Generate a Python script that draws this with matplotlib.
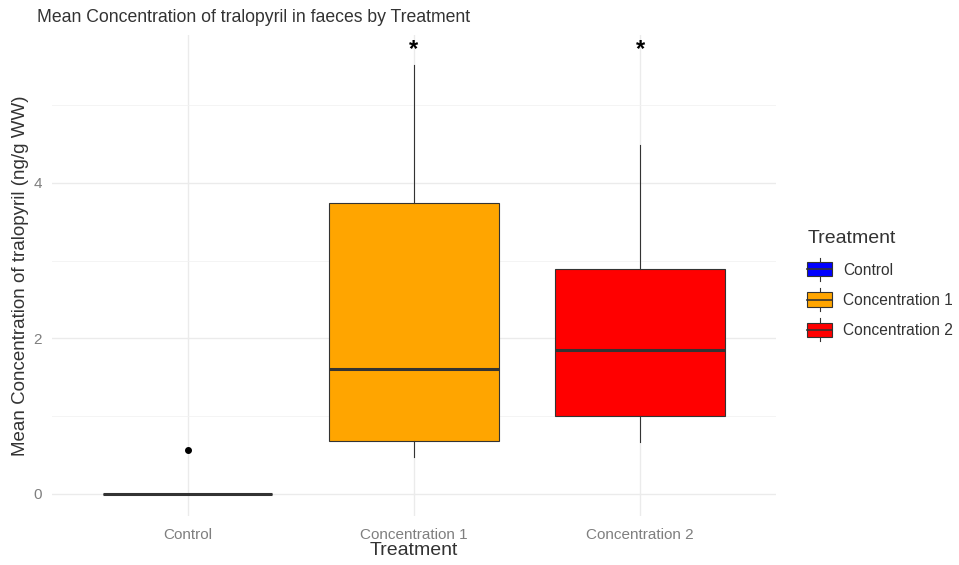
import matplotlib
matplotlib.use('Agg')
import matplotlib.pyplot as plt
from matplotlib.patches import Rectangle
from matplotlib.lines import Line2D
from matplotlib.legend_handler import HandlerBase

plt.rcParams['font.family'] = ['Liberation Sans', 'DejaVu Sans']

## data
treatments = ['Control', 'Concentration 1', 'Concentration 2']
colours = ['blue', 'orange', 'red']
whisker_low = [0.0, 0.48, 0.67]
q1 = [0.0, 0.68, 1.0]
median = [0.0, 1.61, 1.85]
q3 = [0.0, 3.74, 2.89]
whisker_high = [0.0, 5.52, 4.49]
outliers = [[0.57], [], []]
signif = ['', '*', '*']
star_y = 5.72


class BoxHandler(HandlerBase):
    def create_artists(self, legend, orig_handle, xdescent, ydescent,
                       width, height, fontsize, trans):
        cx = width / 2 - xdescent
        line = Line2D([cx, cx], [-ydescent - 3, height - ydescent + 3],
                      color='#333333', lw=0.8, transform=trans)
        rect = Rectangle((-xdescent, -ydescent), width, height,
                         facecolor=orig_handle.get_facecolor(),
                         edgecolor='#333333', lw=0.8, transform=trans)
        med = Line2D([-xdescent, width - xdescent],
                     [height / 2 - ydescent] * 2,
                     color='#333333', lw=1.2, transform=trans)
        return [line, rect, med]


fig = plt.figure(figsize=(9.59, 5.65), dpi=100)
ax = fig.add_axes([0.054, 0.087, 0.755, 0.851])

stats = []
for i in range(len(treatments)):
    stats.append({'whislo': whisker_low[i], 'q1': q1[i], 'med': median[i],
                  'q3': q3[i], 'whishi': whisker_high[i], 'fliers': outliers[i]})

bp = ax.bxp(stats, positions=[1, 2, 3], widths=0.75, patch_artist=True,
            showcaps=False,
            boxprops=dict(edgecolor='#333333', linewidth=0.8),
            whiskerprops=dict(color='#333333', linewidth=0.8),
            medianprops=dict(color='#333333', linewidth=2.2),
            flierprops=dict(marker='o', markersize=4, markerfacecolor='black',
                            markeredgecolor='black'))
for patch, c in zip(bp['boxes'], colours):
    patch.set_facecolor(c)
for l in bp['medians']:
    l.set_solid_capstyle('butt')

for i, s in enumerate(signif):
    if s:
        ax.text(i + 1, star_y, s, ha='center', va='center', fontsize=17,
                fontweight='bold', color='black')

ax.set_xlim(0.4, 3.6)
ax.set_ylim(-0.283, 5.9)
ax.set_xticks([1, 2, 3])
ax.set_xticklabels(treatments)
ax.set_yticks([0, 2, 4])
ax.set_yticks([1, 3, 5], minor=True)
ax.grid(which='major', color='#EBEBEB', lw=1.0)
ax.grid(which='minor', axis='y', color='#F2F2F2', lw=0.6)
ax.set_axisbelow(True)
for sp in ax.spines.values():
    sp.set_visible(False)
ax.tick_params(which='both', length=0, labelsize=11, labelcolor='#7F7F7F')
ax.tick_params(axis='x', pad=9)
ax.tick_params(axis='y', pad=7)

ax.set_xlabel('Treatment', fontsize=14, color='#333333', labelpad=0)
ax.set_ylabel('Mean Concentration of tralopyril (ng/g WW)', fontsize=13.5,
              color='#333333', labelpad=3)
fig.text(37 / 959, 1 - 18 / 565,
         'Mean Concentration of tralopyril in faeces by Treatment',
         fontsize=12.7, color='#333333', ha='left', va='center')

handles = [Rectangle((0, 0), 1, 1, facecolor=c) for c in colours]
leg = fig.legend(handles, treatments, title='Treatment',
                 handler_map={Rectangle: BoxHandler()},
                 loc='upper left', bbox_to_anchor=(0.832, 0.609),
                 frameon=False, fontsize=11.2, title_fontsize=14,
                 handlelength=1.6, handleheight=1.05, labelspacing=0.95,
                 handletextpad=0.7, borderaxespad=0.2)
leg._legend_box.align = 'left'
for t in leg.get_texts():
    t.set_color('#333333')
leg.get_title().set_color('#333333')

fig.savefig('out.png', dpi=100)
